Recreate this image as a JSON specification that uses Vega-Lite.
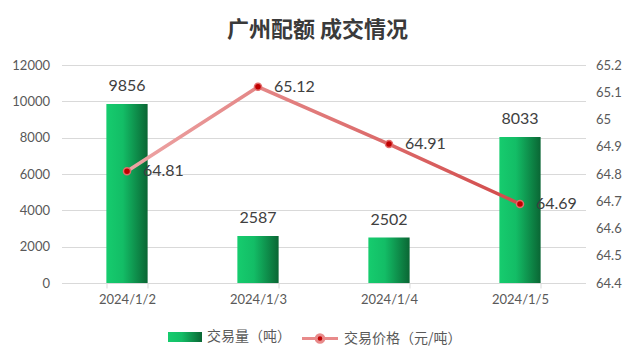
{
  "$schema": "https://vega.github.io/schema/vega-lite/v6.json",
  "width": 524,
  "height": 218,
  "autosize": {"type": "none"},
  "padding": {"left": 61.5, "top": 65, "right": 49.5, "bottom": 79},
  "background": "white",
  "title": {
    "text": "广州配额 成交情况",
    "font": "Noto Sans CJK SC",
    "fontSize": 22,
    "fontWeight": "bold",
    "color": "#3a3a3a",
    "anchor": "middle",
    "frame": "group",
    "offset": 17,
    "dx": -6
  },
  "data": {
    "values": [
      {"date": "2024/1/2", "volume": 9856, "price": 64.81},
      {"date": "2024/1/3", "volume": 2587, "price": 65.12},
      {"date": "2024/1/4", "volume": 2502, "price": 64.91},
      {"date": "2024/1/5", "volume": 8033, "price": 64.69}
    ]
  },
  "encoding": {
    "x": {
      "field": "date",
      "type": "ordinal",
      "sort": null,
      "scale": {"paddingInner": 0.685, "paddingOuter": 0.3425},
      "axis": {
        "title": null,
        "labelAngle": 0,
        "labelFont": "Lato",
        "labelFontSize": 13,
        "labelColor": "#595959",
        "labelPadding": 5,
        "domainColor": "#d9d9d9",
        "tickColor": "#d9d9d9",
        "tickSize": 5,
        "tickBand": "extent",
        "grid": false
      }
    }
  },
  "layer": [
    {
      "mark": {
        "type": "bar",
        "fill": {
          "gradient": "linear",
          "x1": 0, "y1": 0, "x2": 1, "y2": 0,
          "stops": [
            {"offset": 0, "color": "#16cc6e"},
            {"offset": 0.4, "color": "#13bd66"},
            {"offset": 1, "color": "#0a6634"}
          ]
        }
      },
      "encoding": {
        "y": {
          "field": "volume",
          "type": "quantitative",
          "scale": {"domain": [0, 12000]},
          "axis": {
            "title": null,
            "orient": "left",
            "values": [0, 2000, 4000, 6000, 8000, 10000, 12000],
            "tickCount": 7,
            "format": "d",
            "labelOverlap": false,
            "domain": false,
            "ticks": false,
            "grid": true,
            "gridColor": "#d9d9d9",
            "labelFont": "Lato",
            "labelFontSize": 13,
            "labelColor": "#595959",
            "labelPadding": 12
          }
        }
      }
    },
    {
      "mark": {
        "type": "point",
        "opacity": 0,
        "filled": true,
        "fill": {
          "gradient": "linear",
          "x1": 0, "y1": 0, "x2": 1, "y2": 0,
          "stops": [
            {"offset": 0, "color": "#16cc6e"},
            {"offset": 0.4, "color": "#13bd66"},
            {"offset": 1, "color": "#0a6634"}
          ]
        }
      },
      "encoding": {
        "y": {"field": "volume", "type": "quantitative", "scale": {"domain": [0, 12000]}, "axis": null},
        "shape": {
          "datum": "交易量（吨）",
          "type": "nominal",
          "scale": {"range": ["M-1.7,-0.5H1.7V0.5H-1.7Z"]},
          "legend": {
            "orient": "none",
            "legendX": 113.5,
            "legendY": 262,
            "title": null,
            "padding": 0,
            "symbolSize": 400,
            "symbolStrokeWidth": 0,
            "symbolOpacity": 1,
            "labelFont": "Noto Sans CJK SC",
            "labelFontSize": 14,
            "labelColor": "#595959",
            "labelOffset": 12
          }
        }
      }
    },
    {
      "mark": {
        "type": "text",
        "dy": -13,
        "baseline": "alphabetic",
        "font": "Lato",
        "fontSize": 16,
        "color": "#404040"
      },
      "encoding": {
        "y": {"field": "volume", "type": "quantitative", "scale": {"domain": [0, 12000]}, "axis": null},
        "text": {"field": "volume", "type": "quantitative", "format": "d"}
      }
    },
    {
      "mark": {
        "type": "line",
        "strokeWidth": 3.5,
        "stroke": {
          "gradient": "linear",
          "x1": 0, "y1": 0, "x2": 1, "y2": 0,
          "stops": [
            {"offset": 0, "color": "#eda5a5"},
            {"offset": 1, "color": "#d24a4a"}
          ]
        }
      },
      "encoding": {
        "y": {
          "field": "price",
          "type": "quantitative",
          "scale": {"domain": [64.4, 65.2], "zero": false},
          "axis": {
            "title": null,
            "orient": "right",
            "values": [64.4, 64.5, 64.6, 64.7, 64.8, 64.9, 65, 65.1, 65.2],
            "tickCount": 9,
            "format": ".1~f",
            "labelOverlap": false,
            "domain": false,
            "ticks": false,
            "grid": false,
            "labelFont": "Lato",
            "labelFontSize": 13,
            "labelColor": "#595959",
            "labelPadding": 10
          }
        }
      }
    },
    {
      "mark": {"type": "point", "opacity": 0, "filled": true, "fill": "#c00000"},
      "encoding": {
        "y": {"field": "price", "type": "quantitative", "scale": {"domain": [64.4, 65.2], "zero": false}, "axis": null},
        "stroke": {
          "datum": "交易价格（元/吨）",
          "type": "nominal",
          "scale": {"range": ["#e88a8a"]},
          "legend": {
            "orient": "none",
            "legendX": 247,
            "legendY": 262,
            "title": null,
            "padding": 0,
            "symbolType": "M-1.8,0H-0.38M0.38,0H1.8M-0.38,0A0.38,0.38 0 1,0 0.38,0A0.38,0.38 0 1,0 -0.38,0Z",
            "symbolSize": 400,
            "symbolStrokeWidth": 3,
            "symbolOpacity": 1,
            "symbolFillColor": "#c00000",
            "labelFont": "Noto Sans CJK SC",
            "labelFontSize": 14,
            "labelColor": "#595959",
            "labelOffset": 12.5
          }
        }
      }
    },
    {
      "mark": {
        "type": "point",
        "filled": true,
        "fill": "#c00000",
        "stroke": "#e36c6c",
        "strokeWidth": 1.5,
        "size": 50,
        "opacity": 1
      },
      "encoding": {
        "y": {"field": "price", "type": "quantitative", "scale": {"domain": [64.4, 65.2], "zero": false}, "axis": null}
      }
    },
    {
      "mark": {
        "type": "text",
        "dx": 16,
        "align": "left",
        "baseline": "middle",
        "font": "Lato",
        "fontSize": 16,
        "color": "#404040"
      },
      "encoding": {
        "y": {"field": "price", "type": "quantitative", "scale": {"domain": [64.4, 65.2], "zero": false}, "axis": null},
        "text": {"field": "price", "type": "quantitative", "format": ".2f"}
      }
    }
  ],
  "resolve": {"scale": {"y": "independent"}},
  "config": {
    "view": {"stroke": null},
    "axis": {"labelOverlap": false}
  }
}
